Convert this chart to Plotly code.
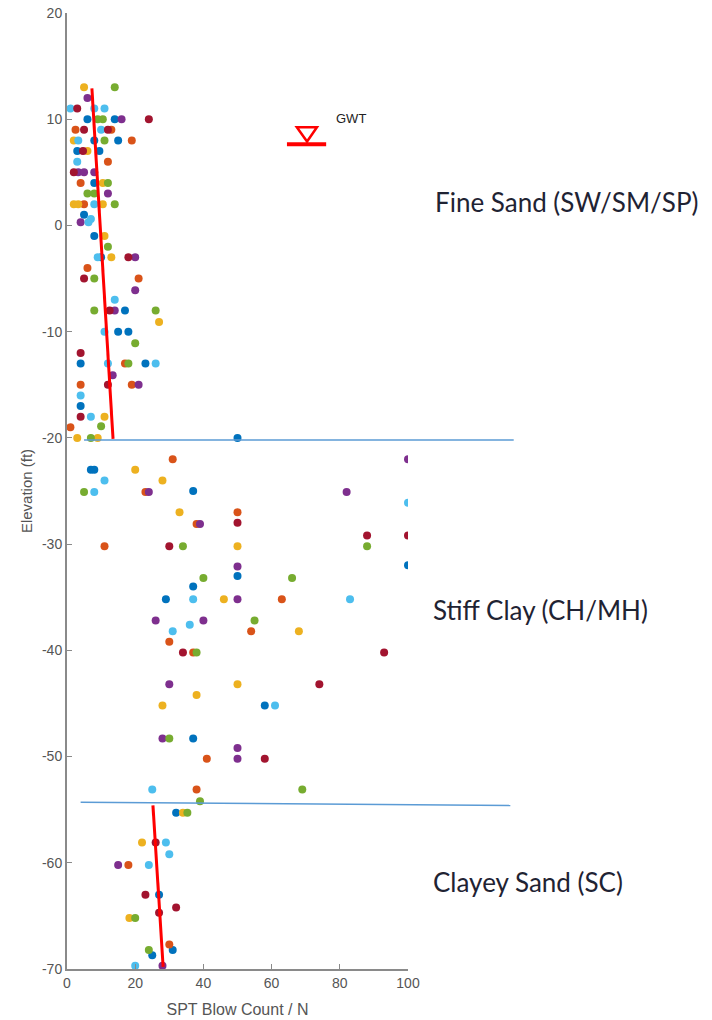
import plotly.graph_objects as go

# SPT blow count (N) and elevation (ft) for each boring, one colour per boring
blue_n = [6, 14, 8, 15, 3, 9.5, 8, 5, 8, 10, 17, 15, 18, 4, 23, 4, 50, 7, 8, 37, 100, 50, 37, 29, 58, 37, 32, 27, 31, 25]
blue_elev = [10, 10, 8, 8, 7, 7, 4, 1, -1, -3, -8, -10, -10, -13, -13, -17, -20, -23, -23, -25, -32, -33, -34, -35.2, -45.2, -48.3, -55.3, -63, -68.2, -68.7]

orange_n = [2.5, 13, 19, 12, 4, 5, 6, 21, 17, 4, 19, 1, 31, 23, 50, 38, 11, 63, 54, 30, 37, 41, 38, 18, 30]
orange_elev = [9, 9, 8, 6, 4, 2, -4, -5, -13, -15, -15, -19, -22, -25.1, -27, -28.1, -30.2, -35.2, -38.2, -39.2, -40.2, -50.2, -53.1, -60.2, -67.7]

yellow_n = [5, 2, 6, 10.5, 2, 3.3, 10.5, 11, 13, 27, 11, 3, 9, 20, 28, 33, 50, 46, 68, 50, 38, 28, 34, 22, 18.3]
yellow_elev = [13, 8, 7, 4, 2, 2, 2, -1, -3, -9.1, -18, -20, -20, -23, -24, -27, -30.2, -35.2, -38.2, -43.2, -44.2, -45.2, -55.3, -58.1, -65.2]

purple_n = [6, 16, 3.3, 5, 8, 12, 4, 20, 20, 14, 13.4, 21, 100, 24, 82, 39, 50, 50, 26, 40, 30, 28, 50, 50, 15, 28]
purple_elev = [12, 10, 5, 5, 5, 3, 0.3, -3, -6.1, -8, -14.1, -15, -22, -25.1, -25.1, -28.1, -32.1, -35.2, -37.2, -37.2, -43.2, -48.3, -49.2, -50.2, -60.2, -69.7]

green_n = [14, 9, 10.5, 11, 12, 6, 8, 14, 12, 8, 8, 26, 20, 18, 10, 7, 5, 34, 88, 40, 66, 55, 38, 30, 69, 39, 35.3, 20, 24]
green_elev = [13, 10, 10, 8, 4, 3, 3, 2, -2, -5, -8, -8, -11.1, -13, -18.9, -20, -25.1, -30.2, -30.2, -33.2, -33.2, -37.2, -40.2, -48.3, -53.1, -54.2, -55.3, -65.2, -68.2]

lightblue_n = [1, 8, 11, 10, 3.3, 3, 8, 6.3, 7, 9, 14, 11, 12, 26, 4, 7, 11, 8, 100, 37, 83, 36, 31, 61, 25, 29, 30, 24, 20]
lightblue_elev = [11, 11, 11, 9, 8, 6, 2, 0.3, 0.6, -3, -7, -10, -13, -13, -16, -18, -24, -25.1, -26.1, -35.2, -35.2, -37.6, -38.2, -45.2, -53.1, -58.1, -59.2, -60.2, -69.7]

darkred_n = [3, 24, 5, 12, 4.7, 2, 18, 5, 12.5, 4, 12, 4, 50, 88, 100, 30, 34, 93, 74, 58, 26, 23, 32, 27]
darkred_elev = [11, 10, 9, 9, 7, 5, -3, -5, -8, -12, -15, -18, -28, -29.2, -29.2, -30.2, -40.2, -40.2, -43.2, -50.2, -58.1, -63, -64.2, -64.7]

borings = [
    (blue_n, blue_elev, "#0072BD"),
    (orange_n, orange_elev, "#D95319"),
    (yellow_n, yellow_elev, "#EDB120"),
    (purple_n, purple_elev, "#7E2F8E"),
    (green_n, green_elev, "#77AC30"),
    (lightblue_n, lightblue_elev, "#4DBEEE"),
    (darkred_n, darkred_elev, "#A2142F"),
]

# Linear trend lines through the two sand layers
fine_sand_trend_n = [7.3, 13.5]
fine_sand_trend_elev = [12.9, -20.1]
clayey_sand_trend_n = [25.2, 28.2]
clayey_sand_trend_elev = [-54.6, -69.8]

# Layer boundaries: (start N, end N), (elevation at start, elevation at end)
boundary_n = [(5, 131), (4, 130)]
boundary_elev = [(-20.2, -20.2), (-54.3, -54.6)]

# Groundwater table marker
gwt_n = [64.5, 76.0]
gwt_elev = 7.64
gwt_tri_n = [67.4, 73.3, 70.4]
gwt_tri_elev = [9.25, 9.25, 7.9]

# Layer names and where they sit (N, elevation)
layer_names = ["Fine Sand (SW/SM/SP)", "Stiff Clay (CH/MH)", "Clayey Sand (SC)"]
layer_n = [107.3, 106.7, 106.7]
layer_elev = [2.2, -36.2, -61.8]

x_range = [0, 100]
y_range = [-70, 20]
x_ticks = [0, 20, 40, 60, 80, 100]
y_ticks = [20, 10, 0, -10, -20, -30, -40, -50, -60, -70]

fig = go.Figure()

for n, elev, color in borings:
    fig.add_trace(go.Scatter(
        x=n, y=elev, mode="markers",
        marker=dict(size=8, color=color, line=dict(width=0)),
        showlegend=False, hoverinfo="x+y",
    ))

for n, elev in [(fine_sand_trend_n, fine_sand_trend_elev), (clayey_sand_trend_n, clayey_sand_trend_elev)]:
    fig.add_trace(go.Scatter(
        x=n, y=elev, mode="lines",
        line=dict(color="#FF0000", width=3),
        showlegend=False, hoverinfo="skip",
    ))


def to_paper_x(n):
    return (n - x_range[0]) / (x_range[1] - x_range[0])


shapes = []
for (n0, n1), (e0, e1) in zip(boundary_n, boundary_elev):
    shapes.append(dict(
        type="line", xref="paper", yref="y",
        x0=to_paper_x(n0), x1=to_paper_x(n1), y0=e0, y1=e1,
        line=dict(color="#5B9BD5", width=1.5),
    ))

# Groundwater symbol: inverted triangle over a bar
shapes.append(dict(
    type="path", xref="x", yref="y",
    path="M {0},{3} L {1},{4} L {2},{5} Z".format(
        gwt_tri_n[0], gwt_tri_n[1], gwt_tri_n[2],
        gwt_tri_elev[0], gwt_tri_elev[1], gwt_tri_elev[2]),
    line=dict(color="#FF0000", width=2.5),
))
shapes.append(dict(
    type="line", xref="x", yref="y",
    x0=gwt_n[0], x1=gwt_n[1], y0=gwt_elev, y1=gwt_elev,
    line=dict(color="#FF0000", width=4),
))

annotations = []
for name, n, e in zip(layer_names, layer_n, layer_elev):
    annotations.append(dict(
        text=name, x=to_paper_x(n), y=e, xref="paper", yref="y",
        xanchor="left", yanchor="middle", showarrow=False,
        font=dict(family="Lato", size=26, color="#1f2333"),
    ))
annotations.append(dict(
    text="GWT", x=78.3, y=10.1, xref="x", yref="y",
    xanchor="left", yanchor="middle", showarrow=False,
    font=dict(family="Liberation Sans", size=13, color="#222222"),
))

axis_common = dict(
    showline=True, linecolor="#8a8a8a", linewidth=2,
    ticks="inside", ticklen=5, tickwidth=1, tickcolor="#8a8a8a",
    showgrid=False, zeroline=False, automargin=False,
    tickfont=dict(family="Liberation Sans", size=14, color="#555555"),
)

fig.update_layout(
    width=712, height=1020,
    margin=dict(l=67, r=304, t=13, b=51),
    paper_bgcolor="white", plot_bgcolor="white",
    xaxis=dict(range=x_range, tickvals=x_ticks, ticktext=[str(v) for v in x_ticks],
               title=dict(text="SPT Blow Count / N", standoff=14,
                          font=dict(family="Liberation Sans", size=16, color="#555555")),
               **axis_common),
    yaxis=dict(range=y_range, tickvals=y_ticks, ticktext=[str(v) for v in y_ticks],
               title=dict(text="Elevation (ft)", standoff=6,
                          font=dict(family="Liberation Sans", size=15, color="#555555")),
               **axis_common),
    shapes=shapes,
    annotations=annotations,
)

fig.write_html("out.html")
